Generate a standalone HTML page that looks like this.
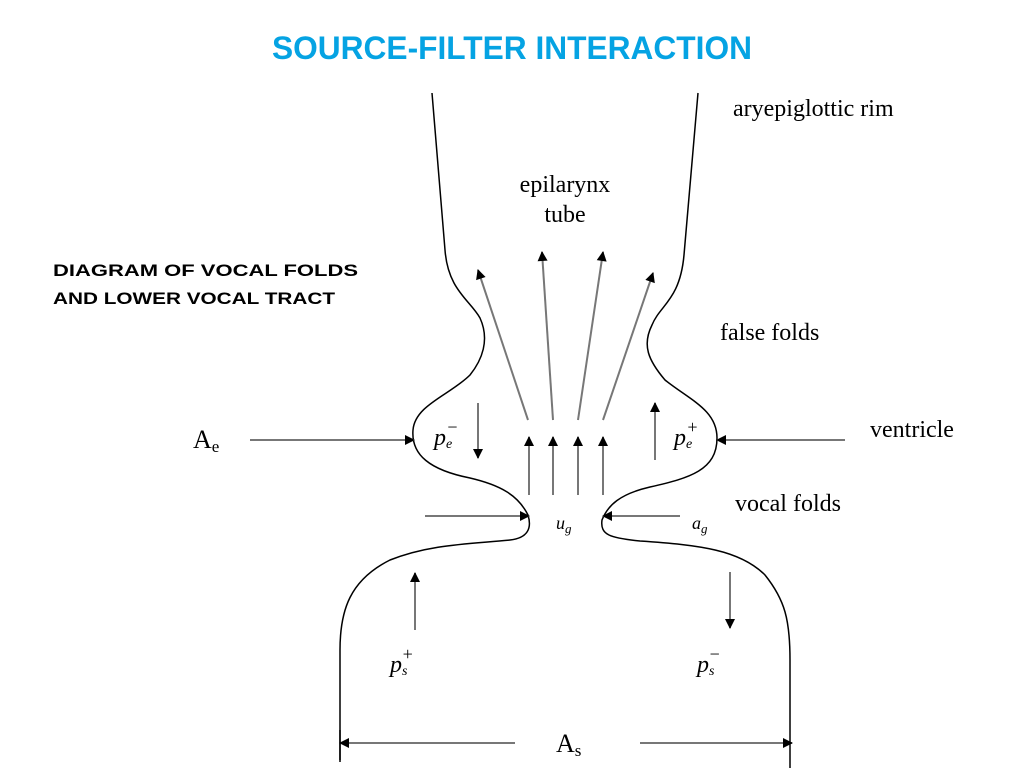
<!DOCTYPE html>
<html><head><meta charset="utf-8"><style>body{margin:0;background:#fff}svg{display:block}</style></head>
<body>
<svg width="1024" height="768" viewBox="0 0 1024 768" xmlns="http://www.w3.org/2000/svg">
<defs>
<marker id="a" viewBox="0 0 10 10" refX="9" refY="5" markerWidth="9" markerHeight="9" markerUnits="userSpaceOnUse" orient="auto"><path d="M0,0 L10,5 L0,10 z" fill="#000"/></marker>
<marker id="b" viewBox="0 0 10 10" refX="9" refY="5" markerWidth="12" markerHeight="10" markerUnits="userSpaceOnUse" orient="auto"><path d="M0,0 L10,5 L0,10 z" fill="#000"/></marker>
</defs>
<text x="512" y="59" text-anchor="middle" font-family="Liberation Sans, sans-serif" font-weight="bold" font-size="32" fill="#05a3e3" textLength="480" lengthAdjust="spacingAndGlyphs">SOURCE-FILTER INTERACTION</text>
<g font-family="Liberation Sans, sans-serif" font-weight="bold" font-size="17" fill="#000">
<text x="53" y="276" textLength="305" lengthAdjust="spacingAndGlyphs">DIAGRAM OF VOCAL FOLDS</text>
<text x="53" y="304" textLength="282" lengthAdjust="spacingAndGlyphs">AND LOWER VOCAL TRACT</text>
</g>
<g fill="none" stroke="#000" stroke-width="1.5">
<path d="M432,93 L445,250 C448,290 470,300 480,318 C490,340 482,360 470,375 C450,395 415,405 413,430 C411,455 430,470 470,478 C500,485 518,495 528,515 C532,528 528,538 510,540 C470,544 430,544 390,560 C350,580 340,610 340,650 L340,762"/>
<path d="M698,93 L684,255 C680,300 660,305 652,325 C642,345 648,360 665,380 C690,400 717,410 717,438 C717,470 690,478 650,487 C620,494 608,505 602,520 C600,535 610,538 640,541 C700,545 740,550 765,575 C785,600 790,620 790,660 L790,768"/>
</g>
<g stroke="#777" stroke-width="2" fill="none" marker-end="url(#b)">
<line x1="528" y1="420" x2="478" y2="270"/>
<line x1="553" y1="420" x2="542" y2="252"/>
<line x1="578" y1="420" x2="603" y2="252"/>
<line x1="603" y1="420" x2="653" y2="273"/>
<line x1="529" y1="495" x2="529" y2="437"/>
<line x1="553" y1="495" x2="553" y2="437"/>
<line x1="578" y1="495" x2="578" y2="437"/>
<line x1="603" y1="495" x2="603" y2="437"/>
<line x1="478" y1="403" x2="478" y2="458"/>
<line x1="655" y1="460" x2="655" y2="403"/>
<line x1="250" y1="440" x2="414" y2="440"/>
<line x1="845" y1="440" x2="717" y2="440"/>
<line x1="425" y1="516" x2="529" y2="516"/>
<line x1="680" y1="516" x2="603" y2="516"/>
<line x1="415" y1="630" x2="415" y2="573"/>
<line x1="730" y1="572" x2="730" y2="628"/>
<line x1="515" y1="743" x2="340" y2="743"/>
<line x1="640" y1="743" x2="792" y2="743"/>
</g>
<line x1="340" y1="730" x2="340" y2="760" stroke="#000" stroke-width="1.5"/>
<g font-family="Liberation Serif, serif" font-size="24" fill="#000">
<text x="733" y="116">aryepiglottic rim</text>
<text x="565" y="192" text-anchor="middle">epilarynx</text>
<text x="565" y="222" text-anchor="middle">tube</text>
<text x="720" y="340">false folds</text>
<text x="870" y="437">ventricle</text>
<text x="735" y="511">vocal folds</text>
<text x="193" y="448" font-size="26">A<tspan font-size="17" dy="4">e</tspan></text>
<text x="556" y="752" font-size="26">A<tspan font-size="17" dy="4">s</tspan></text>
<g font-style="italic">
<text x="434" y="445">p<tspan font-size="14" dy="3">e</tspan><tspan font-size="18" dx="-6" dy="-15">−</tspan></text>
<text x="674" y="445">p<tspan font-size="14" dy="3">e</tspan><tspan font-size="18" dx="-6" dy="-15">+</tspan></text>
<text x="390" y="672">p<tspan font-size="14" dy="3">s</tspan><tspan font-size="18" dx="-6" dy="-15">+</tspan></text>
<text x="697" y="672">p<tspan font-size="14" dy="3">s</tspan><tspan font-size="18" dx="-6" dy="-15">−</tspan></text>
<text x="556" y="529" font-size="18">u<tspan font-size="13" dy="4">g</tspan></text>
<text x="692" y="529" font-size="18">a<tspan font-size="13" dy="4">g</tspan></text>
</g>
</g>
</svg>
</body></html>
